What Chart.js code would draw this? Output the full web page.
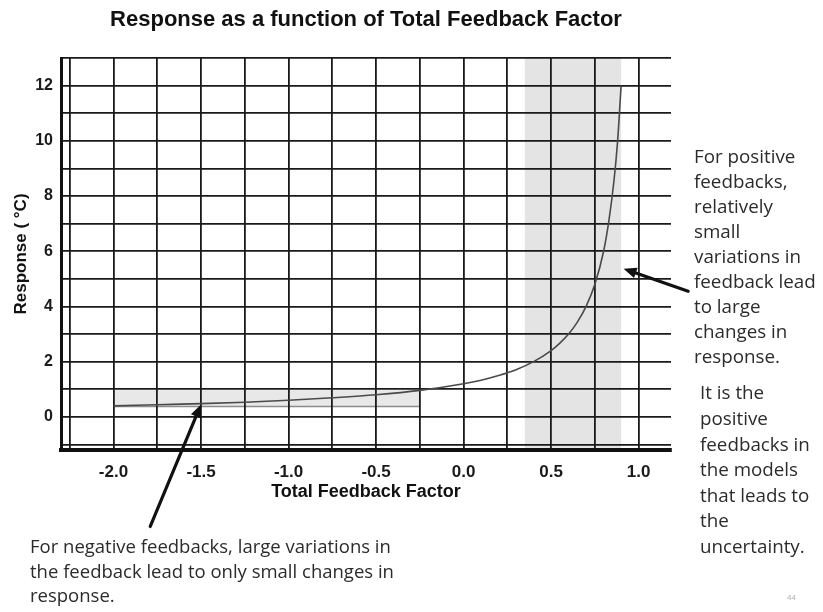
<!DOCTYPE html>
<html>
<head>
<meta charset="utf-8">
<script src="https://cdn.jsdelivr.net/npm/chart.js@4/dist/chart.umd.min.js"></script>
<style>
html,body{margin:0;padding:0;background:#fff;}
#wrap{width:823px;height:612px;position:relative;}
</style>
</head>
<body>
<div id="wrap"><canvas id="c" width="823" height="612"></canvas></div>
<script>
// ---- data ----
const feedbackFactor = [-2.0, -1.75, -1.5, -1.25, -1.0, -0.75, -0.5, -0.25, 0.0, 0.1, 0.2, 0.3, 0.4, 0.5, 0.55, 0.6, 0.65, 0.7, 0.75, 0.8, 0.83, 0.86, 0.88, 0.9];
const responseValues = [0.40, 0.44, 0.48, 0.53, 0.60, 0.69, 0.80, 0.96, 1.20, 1.33, 1.50, 1.71, 2.00, 2.40, 2.67, 3.00, 3.43, 4.00, 4.80, 6.00, 7.10, 8.60, 10.00, 12.00];
const xTickLabels = ['-2.0', '-1.5', '-1.0', '-0.5', '0.0', '0.5', '1.0'];
const yTickLabels = ['0', '2', '4', '6', '8', '10', '12'];
const positiveBandX = [0.35, 0.90];
const negativeBandX = [-2.0, -0.25];
const negativeBandY = [0.38, 0.97];
const arrowNegative = [[-1.79, -3.97], [-1.50, 0.45]];
const arrowPositive = [[1.283, 4.55], [0.914, 5.37]];
const titleText = 'Response as a function of Total Feedback Factor';
const xTitle = 'Total Feedback Factor';
const yTitle = 'Response ( \u00B0C)';
const noteRightA = ['For positive', 'feedbacks,', 'relatively', 'small', 'variations in', 'feedback lead', 'to large', 'changes in', 'response.'];
const noteRightB = ['It is the', 'positive', 'feedbacks in', 'the models', 'that leads to', 'the', 'uncertainty.'];
const noteBottom = ['For negative feedbacks, large variations in', 'the feedback lead to only small changes in', 'response.'];
const pageNumber = '44';

const points = feedbackFactor.map((x, i) => ({x: x, y: responseValues[i]}));

const bandsPlugin = {
  id: 'bands',
  beforeDraw(chart) {
    const ctx = chart.ctx, xs = chart.scales.x, ys = chart.scales.y, a = chart.chartArea;
    ctx.save();
    ctx.fillStyle = '#ffffff';
    ctx.fillRect(0, 0, chart.width, chart.height);
    const px0 = xs.getPixelForValue(positiveBandX[0]), px1 = xs.getPixelForValue(positiveBandX[1]);
    ctx.fillStyle = '#e4e4e4';
    ctx.fillRect(px0, a.top, px1 - px0, a.bottom - a.top);
    const nx0 = xs.getPixelForValue(negativeBandX[0]), nx1 = xs.getPixelForValue(negativeBandX[1]);
    const ny0 = ys.getPixelForValue(negativeBandY[0]), ny1 = ys.getPixelForValue(negativeBandY[1]);
    ctx.fillStyle = '#e8e8e8';
    ctx.fillRect(nx0, ny1, nx1 - nx0, ny0 - ny1);
    ctx.strokeStyle = '#8c8c8c';
    ctx.lineWidth = 1.5;
    ctx.beginPath();
    ctx.moveTo(nx0, ny0); ctx.lineTo(nx1, ny0);
    ctx.stroke();
    ctx.restore();
  }
};

function drawArrow(ctx, xs, ys, arr) {
  const x0 = xs.getPixelForValue(arr[0][0]), y0 = ys.getPixelForValue(arr[0][1]);
  const x1 = xs.getPixelForValue(arr[1][0]), y1 = ys.getPixelForValue(arr[1][1]);
  const ang = Math.atan2(y1 - y0, x1 - x0);
  const headLen = 13, headW = 5.5;
  const bx = x1 - headLen * Math.cos(ang), by = y1 - headLen * Math.sin(ang);
  ctx.strokeStyle = '#111';
  ctx.fillStyle = '#111';
  ctx.lineWidth = 3.2;
  ctx.lineCap = 'round';
  ctx.beginPath();
  ctx.moveTo(x0, y0); ctx.lineTo(bx, by);
  ctx.stroke();
  ctx.beginPath();
  ctx.moveTo(x1, y1);
  ctx.lineTo(bx + headW * Math.sin(ang), by - headW * Math.cos(ang));
  ctx.lineTo(bx - headW * Math.sin(ang), by + headW * Math.cos(ang));
  ctx.closePath();
  ctx.fill();
}

const notesPlugin = {
  id: 'notes',
  afterDraw(chart) {
    const ctx = chart.ctx, xs = chart.scales.x, ys = chart.scales.y;
    ctx.save();
    drawArrow(ctx, xs, ys, arrowNegative);
    drawArrow(ctx, xs, ys, arrowPositive);
    ctx.fillStyle = '#2b2b2b';
    ctx.textBaseline = 'middle';
    ctx.textAlign = 'left';
    ctx.font = '18.8px "Open Sans"';
    noteRightA.forEach((t, i) => ctx.fillText(t, 694, 158 + i * 24.9));
    noteRightB.forEach((t, i) => ctx.fillText(t, 700, 394 + i * 25.6));
    ctx.font = '18.5px "Open Sans"';
    noteBottom.forEach((t, i) => ctx.fillText(t, 30, 548 + i * 24.5));
    ctx.fillStyle = '#b0b0b0';
    ctx.font = '8px "Liberation Sans"';
    ctx.fillText(pageNumber, 787, 598);
    ctx.restore();
  }
};

new Chart(document.getElementById('c'), {
  type: 'line',
  data: {
    datasets: [{
      data: points,
      borderColor: '#4a4a4a',
      borderWidth: 1.6,
      pointRadius: 0,
      fill: false,
      cubicInterpolationMode: 'monotone'
    }]
  },
  options: {
    responsive: false,
    animation: false,
    layout: {padding: {top: 0, left: 0, right: 152, bottom: 100}},
    plugins: {
      legend: {display: false},
      tooltip: {enabled: false},
      title: {
        display: true,
        fullSize: false,
        text: titleText,
        color: '#111',
        font: {family: '"Liberation Sans", Arial, sans-serif', size: 22, weight: 'bold'},
        padding: {top: 7, bottom: 24.6}
      }
    },
    scales: {
      x: {
        type: 'linear',
        min: -2.3,
        max: 1.185,
        afterFit(s) { s.height = 62; s.paddingLeft = 0; s.paddingRight = 0; },
        grid: {color: '#1a1a1a', lineWidth: 1.8, drawTicks: false},
        border: {color: '#111', width: 4},
        ticks: {
          stepSize: 0.25,
          includeBounds: false,
          autoSkip: false,
          maxRotation: 0,
          padding: 12,
          color: '#1a1a1a',
          font: {family: '"Liberation Sans", Arial, sans-serif', size: 17, weight: 'bold'},
          callback(v) {
            const lbl = xTickLabels.find(l => Math.abs(parseFloat(l) - v) < 1e-6);
            return lbl === undefined ? '' : lbl;
          }
        },
        title: {
          display: true,
          text: xTitle,
          color: '#111',
          font: {family: '"Liberation Sans", Arial, sans-serif', size: 18, weight: 'bold'},
          padding: {top: 0, bottom: 9}
        }
      },
      y: {
        type: 'linear',
        min: -1.2,
        max: 13,
        afterFit(s) { s.width = 61; s.paddingTop = 0; s.paddingBottom = 0; },
        grid: {color: '#1a1a1a', lineWidth: 1.8, drawTicks: false},
        border: {color: '#111', width: 3},
        ticks: {
          stepSize: 1,
          includeBounds: false,
          autoSkip: false,
          padding: 8,
          color: '#1a1a1a',
          font: {family: '"Liberation Sans", Arial, sans-serif', size: 16, weight: 'bold'},
          callback(v) {
            const lbl = yTickLabels.find(l => Math.abs(parseFloat(l) - v) < 1e-6);
            return lbl === undefined ? '' : lbl;
          }
        },
        title: {
          display: true,
          text: yTitle,
          color: '#111',
          font: {family: '"Liberation Sans", Arial, sans-serif', size: 17, weight: 'bold'},
          padding: {top: 11, bottom: 0}
        }
      }
    }
  },
  plugins: [bandsPlugin, notesPlugin]
});
</script>
</body>
</html>
